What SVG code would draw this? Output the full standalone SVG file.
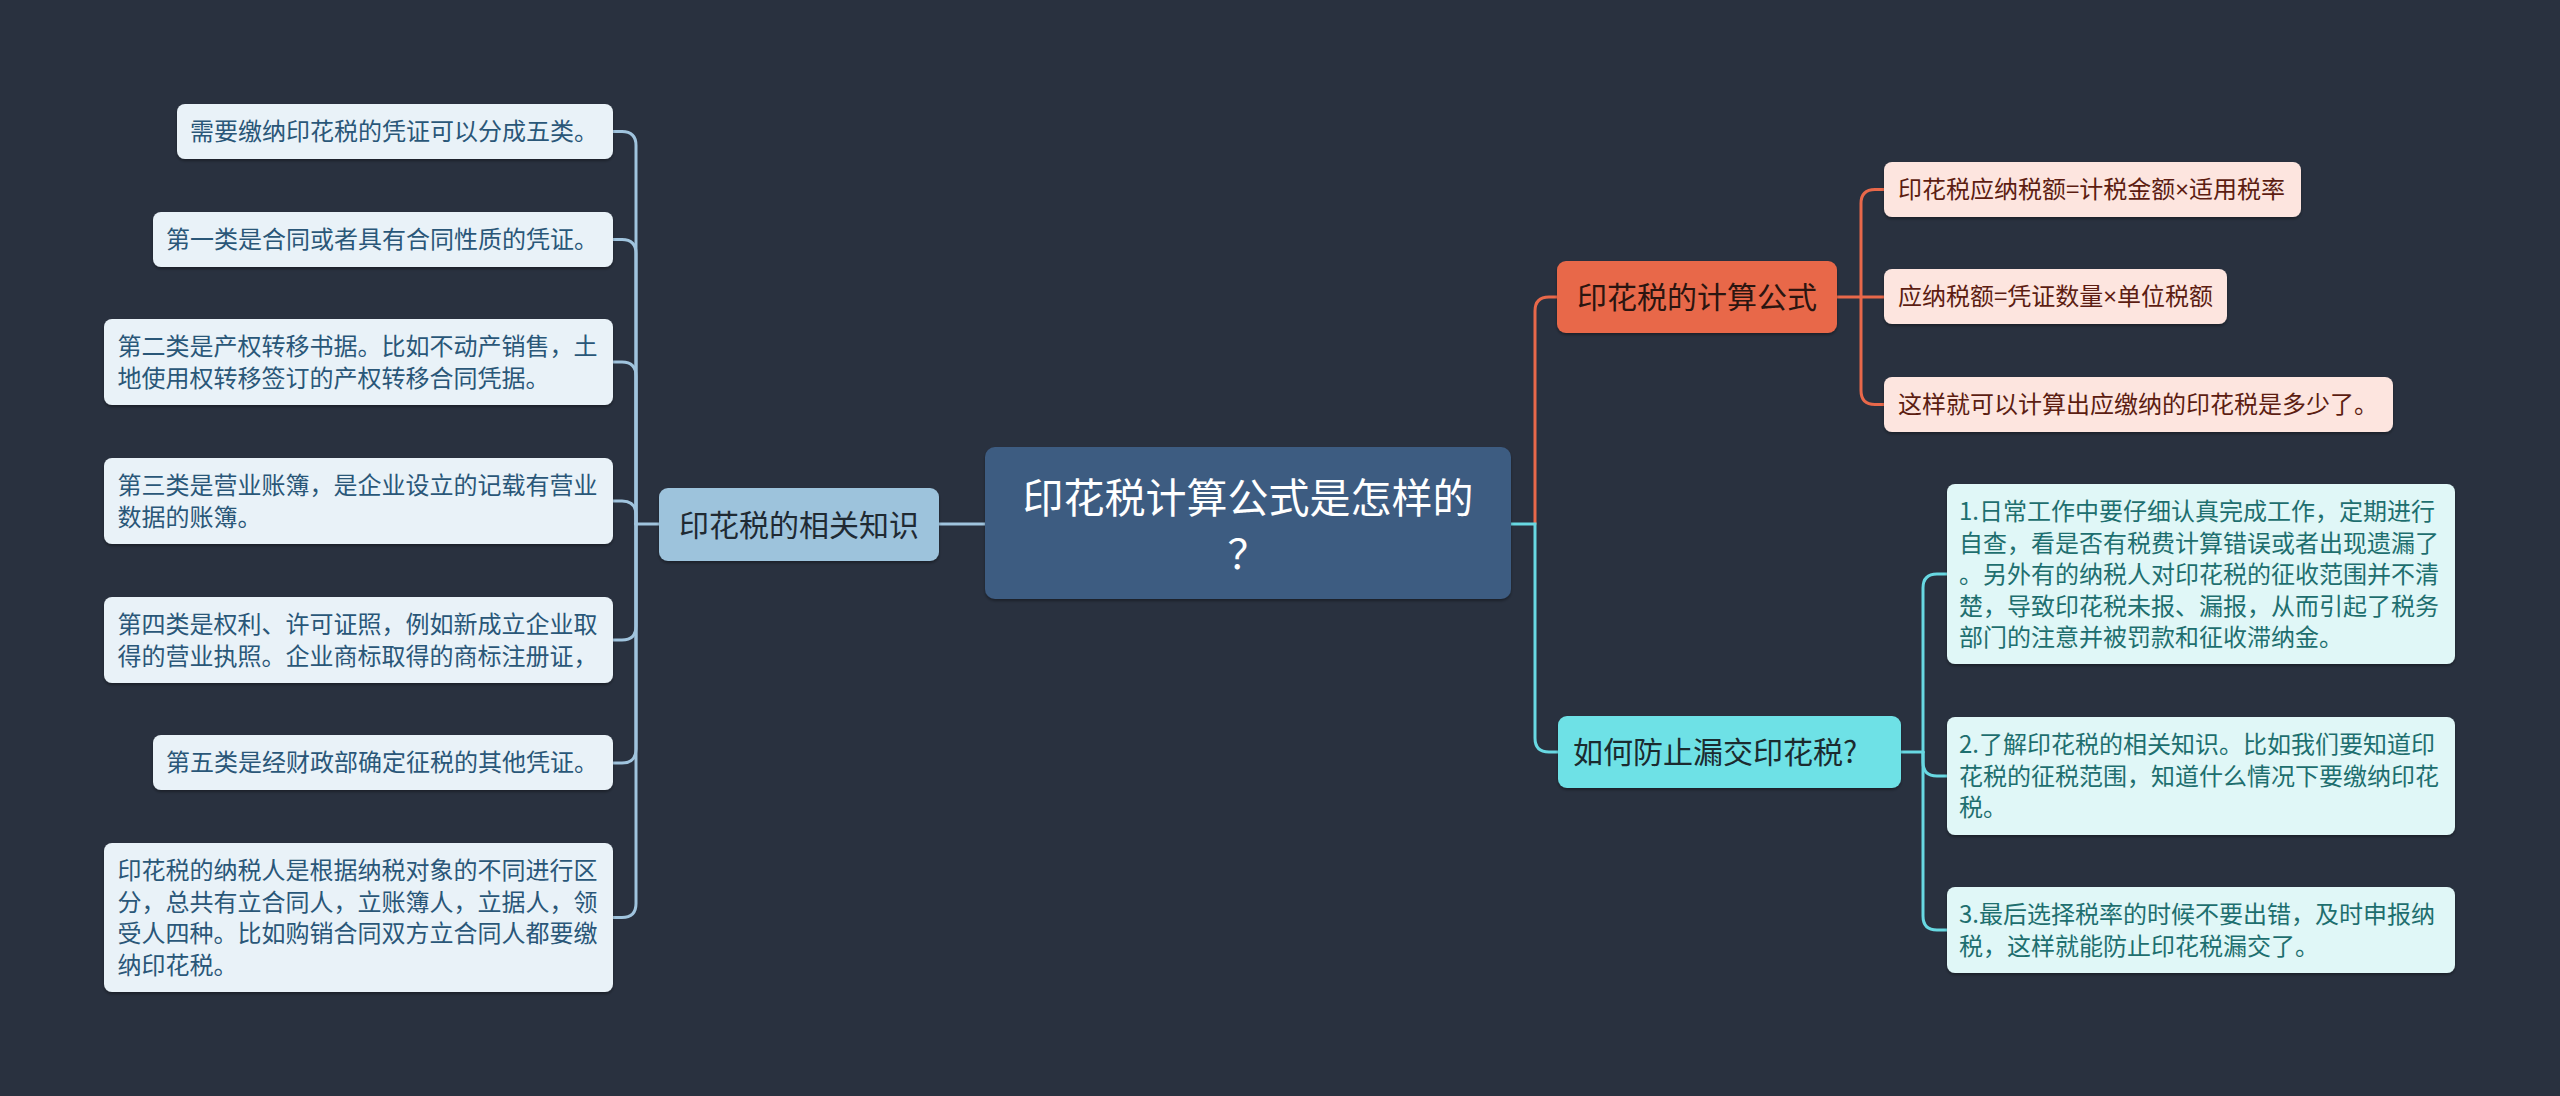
<svg xmlns="http://www.w3.org/2000/svg" width="2560" height="1096" viewBox="0 0 2560 1096">
<defs>
<filter id="sh" x="-5%" y="-10%" width="110%" height="130%"><feDropShadow dx="0" dy="2" stdDeviation="1.5" flood-color="#000" flood-opacity="0.35"/></filter>
<style>
text{font-family:"Noto Sans CJK SC","Noto Sans",sans-serif;}
.x{font-family:"Noto Sans","Liberation Sans",sans-serif;}
.c{fill:none;stroke-width:3;stroke-linecap:round;}
.cb{stroke:#a0c4de;}
.co{stroke:#e8684a;}
.cc{stroke:#68d8e2;}
.root rect{fill:#3d5b81;}
.root text{fill:#ffffff;font-size:41px;text-anchor:middle;}
.bb rect{fill:#9dc3dc;}
.bb text{fill:#1f2a33;font-size:30px;text-anchor:middle;}
.bo rect{fill:#e8684a;}
.bo text{fill:#2b1510;font-size:30px;text-anchor:middle;}
.bc rect{fill:#6ee1e6;}
.bc text{fill:#1b2b2f;font-size:30px;}
.lb rect{fill:#e9f2f8;}
.lb text{fill:#2a5778;font-size:24px;}
.lo rect{fill:#fde5df;}
.lo text{fill:#5c1d12;font-size:24px;}
.lc rect{fill:#e0f7f7;}
.lc text{fill:#1e6f6f;font-size:24px;}
rect{filter:url(#sh);}
</style>
</defs>
<rect x="0" y="0" width="2560" height="1096" fill="#29313f" style="filter:none"/>

<g id="connectors">
<path class="c cb" d="M939 524 H985"/>
<path class="c cb" d="M659 524 H636"/>
<path class="c cb" d="M636 524 V145.5 Q636 131.5 622 131.5 H613"/>
<path class="c cb" d="M636 524 V253.5 Q636 239.5 622 239.5 H613"/>
<path class="c cb" d="M636 524 V376 Q636 362 622 362 H613"/>
<path class="c cb" d="M636 524 V515 Q636 501 622 501 H613"/>
<path class="c cb" d="M636 524 V626 Q636 640 622 640 H613"/>
<path class="c cb" d="M636 524 V749 Q636 763 622 763 H613"/>
<path class="c cb" d="M636 524 V903.5 Q636 917.5 622 917.5 H613"/>

<path class="c co" d="M1535 524 V311 Q1535 297 1549 297 H1557"/>
<path class="c cc" d="M1511 524 H1535 V738 Q1535 752 1549 752 H1558"/>

<path class="c co" d="M1837 297 H1884"/>
<path class="c co" d="M1861 297 V203.5 Q1861 189.5 1875 189.5 H1884"/>
<path class="c co" d="M1861 297 V390.5 Q1861 404.5 1875 404.5 H1884"/>

<path class="c cc" d="M1901 752 H1923"/>
<path class="c cc" d="M1923 752 V588 Q1923 574 1937 574 H1947"/>
<path class="c cc" d="M1923 752 V762 Q1923 776 1937 776 H1947"/>
<path class="c cc" d="M1923 752 V916 Q1923 930 1937 930 H1947"/>
</g>

<g id="root" class="root">
<rect x="985" y="447" width="526" height="152" rx="10"/>
<text x="1248" y="513">印花税计算公式是怎样的</text>
<text x="1248" y="569">？</text>
</g>

<g id="branch-left" class="bb">
<rect x="659" y="488" width="280" height="73" rx="9"/>
<text x="799" y="536">印花税的相关知识</text>
</g>

<g id="branch-formula" class="bo">
<rect x="1557" y="261" width="280" height="72" rx="9"/>
<text x="1697" y="308">印花税的计算公式</text>
</g>

<g id="branch-prevent" class="bc">
<rect x="1558" y="716" width="343" height="72" rx="9"/>
<text x="1573" y="763">如何防止漏交印花税?</text>
</g>

<g id="l1" class="lb">
<rect x="177" y="104" width="436" height="55" rx="8"/>
<text x="190" y="140">需要缴纳印花税的凭证可以分成五类。</text>
</g>
<g id="l2" class="lb">
<rect x="153" y="212" width="460" height="55" rx="8"/>
<text x="166" y="248">第一类是合同或者具有合同性质的凭证。</text>
</g>
<g id="l3" class="lb">
<rect x="104" y="319" width="509" height="86" rx="8"/>
<text x="117.5" y="355">第二类是产权转移书据。比如不动产销售，土</text>
<text x="117.5" y="387">地使用权转移签订的产权转移合同凭据。</text>
</g>
<g id="l4" class="lb">
<rect x="104" y="458" width="509" height="86" rx="8"/>
<text x="117.5" y="494">第三类是营业账簿，是企业设立的记载有营业</text>
<text x="117.5" y="526">数据的账簿。</text>
</g>
<g id="l5" class="lb">
<rect x="104" y="597" width="509" height="86" rx="8"/>
<text x="117.5" y="633">第四类是权利、许可证照，例如新成立企业取</text>
<text x="117.5" y="665">得的营业执照。企业商标取得的商标注册证，</text>
</g>
<g id="l6" class="lb">
<rect x="153" y="735" width="460" height="55" rx="8"/>
<text x="166" y="771">第五类是经财政部确定征税的其他凭证。</text>
</g>
<g id="l7" class="lb">
<rect x="104" y="843" width="509" height="149" rx="8"/>
<text x="117.5" y="879">印花税的纳税人是根据纳税对象的不同进行区</text>
<text x="117.5" y="911">分，总共有立合同人，立账簿人，立据人，领</text>
<text x="117.5" y="942">受人四种。比如购销合同双方立合同人都要缴</text>
<text x="117.5" y="974">纳印花税。</text>
</g>

<g id="r1" class="lo">
<rect x="1884" y="162" width="417" height="55" rx="8"/>
<text x="1898" y="198">印花税应纳税额=计税金额<tspan class="x">×</tspan>适用税率</text>
</g>
<g id="r2" class="lo">
<rect x="1884" y="269" width="343" height="55" rx="8"/>
<text x="1898" y="305">应纳税额=凭证数量<tspan class="x">×</tspan>单位税额</text>
</g>
<g id="r3" class="lo">
<rect x="1884" y="377" width="509" height="55" rx="8"/>
<text x="1898" y="413">这样就可以计算出应缴纳的印花税是多少了。</text>
</g>

<g id="p1" class="lc">
<rect x="1947" y="484" width="508" height="180" rx="8"/>
<text x="1959" y="520">1.日常工作中要仔细认真完成工作，定期进行</text>
<text x="1959" y="552">自查，看是否有税费计算错误或者出现遗漏了</text>
<text x="1959" y="583">。另外有的纳税人对印花税的征收范围并不清</text>
<text x="1959" y="615">楚，导致印花税未报、漏报，从而引起了税务</text>
<text x="1959" y="646">部门的注意并被罚款和征收滞纳金。</text>
</g>
<g id="p2" class="lc">
<rect x="1947" y="717" width="508" height="118" rx="8"/>
<text x="1959" y="753">2.了解印花税的相关知识。比如我们要知道印</text>
<text x="1959" y="785">花税的征税范围，知道什么情况下要缴纳印花</text>
<text x="1959" y="816">税。</text>
</g>
<g id="p3" class="lc">
<rect x="1947" y="887" width="508" height="86" rx="8"/>
<text x="1959" y="923">3.最后选择税率的时候不要出错，及时申报纳</text>
<text x="1959" y="955">税，这样就能防止印花税漏交了。</text>
</g>
</svg>
